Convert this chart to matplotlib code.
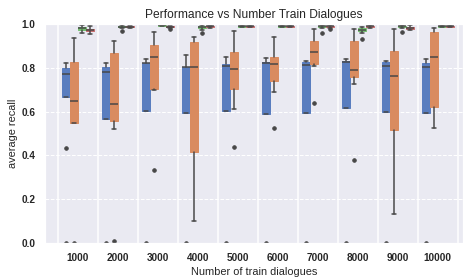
import numpy as np
import matplotlib
matplotlib.use("Agg")
import matplotlib.pyplot as plt
import seaborn as sns


sizes = ["1000", "2000", "3000", "4000", "5000",
         "6000", "7000", "8000", "9000", "10000"]

# per hue: q1, median, q3, whisker low, whisker high, fliers
blue_q1 = [0.665, 0.568, 0.601, 0.592, 0.604, 0.588, 0.595, 0.615, 0.598, 0.595]
blue_med = [0.772, 0.779, 0.820, 0.805, 0.808, 0.822, 0.813, 0.825, 0.808, 0.802]
blue_q3 = [0.799, 0.802, 0.823, 0.805, 0.817, 0.825, 0.828, 0.831, 0.825, 0.823]
blue_lo = [0.665, 0.568, 0.601, 0.592, 0.604, 0.588, 0.595, 0.615, 0.598, 0.595]
blue_hi = [0.820, 0.820, 0.842, 0.858, 0.851, 0.846, 0.830, 0.839, 0.832, 0.842]
blue_fl = [[0.432, 0.0], [0.0], [0.0], [0.0], [0.0],
           [0.0], [0.0], [0.0], [0.0], [0.0]]

orange_q1 = [0.546, 0.556, 0.702, 0.417, 0.702, 0.740, 0.817, 0.757, 0.516, 0.620]
orange_med = [0.648, 0.635, 0.848, 0.805, 0.797, 0.817, 0.874, 0.790, 0.764, 0.851]
orange_q3 = [0.825, 0.866, 0.905, 0.919, 0.874, 0.848, 0.921, 0.921, 0.878, 0.963]
orange_lo = [0.546, 0.519, 0.699, 0.102, 0.613, 0.691, 0.810, 0.726, 0.134, 0.524]
orange_hi = [0.938, 0.922, 0.962, 0.939, 0.970, 0.941, 0.977, 0.976, 0.976, 0.980]
orange_fl = [[0.0], [0.009], [0.333], [], [0.437],
             [0.525], [0.638], [0.379], [], []]

green_q1 = [0.973, 0.985, 0.993, 0.982, 0.988, 0.988, 0.987, 0.969, 0.987, 0.988]
green_med = [0.980, 0.988, 0.996, 0.986, 0.990, 0.990, 0.990, 0.975, 0.990, 0.990]
green_q3 = [0.985, 0.990, 0.998, 0.990, 0.992, 0.992, 0.992, 0.980, 0.992, 0.992]
green_lo = [0.960, 0.980, 0.990, 0.975, 0.985, 0.985, 0.984, 0.960, 0.984, 0.985]
green_hi = [0.994, 0.995, 1.000, 0.995, 0.995, 0.995, 0.996, 0.985, 0.996, 0.995]
green_fl = [[], [0.970], [], [0.957], [], [], [0.957], [0.930], [0.965], []]

red_q1 = [0.967, 0.986, 0.985, 0.986, 0.988, 0.988, 0.986, 0.987, 0.978, 0.988]
red_med = [0.975, 0.988, 0.988, 0.989, 0.990, 0.990, 0.989, 0.990, 0.982, 0.990]
red_q3 = [0.979, 0.990, 0.990, 0.991, 0.992, 0.992, 0.991, 0.992, 0.988, 0.992]
red_lo = [0.954, 0.984, 0.980, 0.984, 0.985, 0.985, 0.982, 0.984, 0.975, 0.985]
red_hi = [0.991, 0.992, 0.993, 0.993, 0.994, 0.994, 0.995, 0.995, 0.995, 0.994]
red_fl = [[], [], [0.976], [], [], [], [0.976], [], [], []]


def make_stats(q1, med, q3, lo, hi, fl):
    return [dict(q1=q1[i], med=med[i], q3=q3[i], whislo=lo[i], whishi=hi[i],
                 fliers=fl[i]) for i in range(len(q1))]


sns.set_theme(style="darkgrid")
plt.rcParams["font.family"] = ["Liberation Sans", "DejaVu Sans"]

fig = plt.figure(figsize=(467 / 72, 280 / 72), dpi=72)
ax = fig.add_axes([0.0964, 0.132, 0.8946, 0.782])

pal = sns.color_palette("muted")
hues = [
    make_stats(blue_q1, blue_med, blue_q3, blue_lo, blue_hi, blue_fl),
    make_stats(orange_q1, orange_med, orange_q3, orange_lo, orange_hi, orange_fl),
    make_stats(green_q1, green_med, green_q3, green_lo, green_hi, green_fl),
    make_stats(red_q1, red_med, red_q3, red_lo, red_hi, red_fl),
]
gray = "#474747"
x = np.arange(len(sizes))
for j, stats in enumerate(hues):
    col = sns.desaturate(pal[j], 0.75)
    ax.bxp(stats, positions=x - 0.3 + 0.2 * j, widths=0.19,
           patch_artist=True, manage_ticks=False,
           boxprops=dict(facecolor=col, edgecolor=col, linewidth=1),
           medianprops=dict(color=gray, linewidth=1.5),
           whiskerprops=dict(color=gray, linewidth=1.5),
           capprops=dict(color=gray, linewidth=1.5),
           flierprops=dict(marker="o", markerfacecolor=gray,
                           markeredgecolor=gray, markersize=3.5))

ax.grid(False)
for v in [0.2, 0.4, 0.6, 0.8]:
    ax.axhline(v, color="white", linestyle="--", linewidth=1, zorder=0)
for i in range(len(sizes) + 1):
    ax.axvline(i - 0.5, color="white", linewidth=1.5, zorder=0)

ax.set_xlim(-0.825, 9.625)
ax.set_ylim(0, 1.0)
ax.set_xticks(x)
ax.set_xticklabels(sizes, fontweight="bold", fontsize=10)
ax.set_yticks([0, 0.2, 0.4, 0.6, 0.8, 1.0])
ax.set_yticklabels(["0.0", "0.2", "0.4", "0.6", "0.8", "1.0"],
                   fontweight="bold", fontsize=10)
ax.set_xlabel("Number of train dialogues", fontsize=11)
ax.set_ylabel("average recall", fontsize=11)
ax.set_title("Performance vs Number Train Dialogues", fontsize=12)

fig.savefig("out.png", dpi=72)
